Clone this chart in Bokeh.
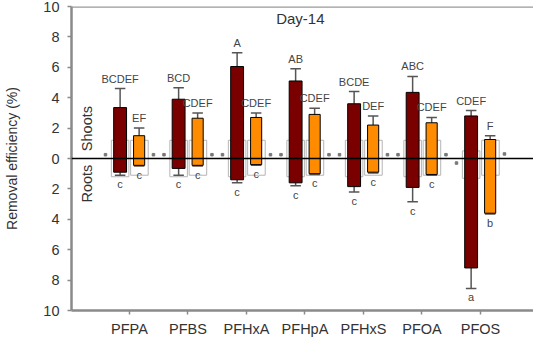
from bokeh.plotting import figure
from bokeh.models import FixedTicker, Span, Range1d, ColumnDataSource
from bokeh.core.properties import value
from bokeh.embed import file_html
from bokeh.resources import INLINE

categories = ["PFPA", "PFBS", "PFHxA", "PFHpA", "PFHxS", "PFOA", "PFOS"]
# shoots (upwards) and roots (downwards) removal efficiency, %
shoot_dark = [3.35, 3.9, 6.05, 5.1, 3.6, 4.35, 2.8]
shoot_dark_err = [1.25, 0.75, 0.9, 0.8, 0.8, 1.05, 0.35]
shoot_orange = [1.5, 2.65, 2.7, 2.9, 2.2, 2.35, 1.25]
shoot_orange_err = [0.5, 0.35, 0.3, 0.4, 0.6, 0.35, 0.25]
root_dark = [0.9, 0.65, 1.4, 1.6, 1.85, 1.9, 7.2]
root_dark_err = [0.2, 0.45, 0.2, 0.2, 0.35, 0.95, 1.35]
root_orange = [0.45, 0.45, 0.4, 1.0, 0.9, 1.05, 3.6]
root_orange_err = [0.05, 0.05, 0.05, 0.05, 0.05, 0.05, 0.05]
# faded control boxes
ctrl_shoot_left = [1.2, 1.2, 1.2, 1.2, 1.2, 1.2, 0.5]
ctrl_shoot_right = [1.2, 1.2, 1.2, 1.2, 1.2, 1.2, 1.2]
ctrl_root_left = [1.2, 1.2, 1.2, 1.2, 1.2, 1.2, 1.3]
ctrl_root_right = [1.1, 1.1, 1.1, 1.1, 1.1, 1.1, 1.1]
ctrl_dot_left = [0.25, 0.25, 0.25, 0.25, 0.25, 0.25, -0.3]
ctrl_dot_right = [0.25, 0.25, 0.25, 0.25, 0.25, 0.25, 0.3]

shoot_dark_labels = ["BCDEF", "BCD", "A", "AB", "BCDE", "ABC", "CDEF"]
shoot_orange_labels = ["EF", "CDEF", "CDEF", "CDEF", "DEF", "CDEF", "F"]
root_dark_labels = ["c", "c", "c", "c", "c", "c", "a"]
root_orange_labels = ["c", "c", "c", "c", "c", "c", "b"]

y_ticks = [-10, -8, -6, -4, -2, 0, 2, 4, 6, 8, 10]

DARK = "#7a0000"
ORANGE = "#ff8c00"
ERR = "#555555"
FONT = "Liberation Sans"

xs = [i + 1 for i in range(len(categories))]
dx_dark = -0.16
dx_or = 0.165
xd = [x + dx_dark for x in xs]
xo = [x + dx_or for x in xs]

p = figure(width=533, height=340, x_range=Range1d(0.009, 7.906), y_range=Range1d(-10, 10),
           output_backend="svg", toolbar_location=None,
           min_border_left=71, min_border_right=0, min_border_top=6, min_border_bottom=30)
p.grid.visible = False
p.outline_line_color = None
p.background_fill_color = "white"
p.border_fill_color = "white"

# control (faded) boxes
p.vbar(x=[x - 0.16 for x in xs], width=0.3, top=ctrl_shoot_left, bottom=[-v for v in ctrl_root_left],
       fill_color="white", line_color="#b5b5b5", line_width=1)
p.vbar(x=[x + 0.17 for x in xs], width=0.3, top=ctrl_shoot_right, bottom=[-v for v in ctrl_root_right],
       fill_color="white", line_color="#b5b5b5", line_width=1)
p.scatter(x=[x - 0.41 for x in xs], y=ctrl_dot_left, size=2.5, marker="square", color="#777777")
p.scatter(x=[x + 0.41 for x in xs], y=ctrl_dot_right, size=2.5, marker="square", color="#777777")

# error bars
def errbars(xc, base, err, sign):
    tips = [sign * (b + e) for b, e in zip(base, err)]
    p.segment(x0=xc, y0=[sign * b for b in base], x1=xc, y1=tips, line_color=ERR, line_width=1.5)
    p.segment(x0=[x - 0.09 for x in xc], y0=tips, x1=[x + 0.09 for x in xc], y1=tips,
              line_color=ERR, line_width=1.5)
    return tips

tip_sd = errbars(xd, shoot_dark, shoot_dark_err, 1)
tip_so = errbars(xo, shoot_orange, shoot_orange_err, 1)
tip_rd = errbars(xd, root_dark, root_dark_err, -1)
tip_ro = errbars(xo, root_orange, root_orange_err, -1)

# bars
p.vbar(x=xd, width=0.22, top=shoot_dark, bottom=0, fill_color=DARK, line_color="black", line_width=1)
p.vbar(x=xd, width=0.22, top=0, bottom=[-v for v in root_dark], fill_color=DARK, line_color="black", line_width=1)
p.vbar(x=xo, width=0.19, top=shoot_orange, bottom=0, fill_color=ORANGE, line_color="black", line_width=1)
p.vbar(x=xo, width=0.19, top=0, bottom=[-v for v in root_orange], fill_color=ORANGE, line_color="black", line_width=1)

p.add_layout(Span(location=0, dimension="width", line_color="black", line_width=1.3))
p.add_layout(Span(location=10, dimension="width", line_color="#9a9a9a", line_width=2.5))

# letters
lab_kw = dict(text_font=value(FONT), text_font_size="11px", text_color="#444444", text_align="center")
p.text(x=xd, y=tip_sd, text=shoot_dark_labels, text_baseline="bottom", y_offset=-4, **lab_kw)
p.text(x=xo, y=tip_so, text=shoot_orange_labels, text_baseline="bottom", y_offset=-4, **lab_kw)
p.text(x=xd, y=tip_rd, text=root_dark_labels, text_baseline="top", y_offset=3, **lab_kw)
p.text(x=xo, y=tip_ro, text=root_orange_labels, text_baseline="top", y_offset=3, **lab_kw)

p.text(x=[0.28], y=[1.97], text=["Shoots"], angle=1.5708, text_align="center", text_baseline="middle",
       text_font=value(FONT), text_font_size="14.5px", text_color="#333333")
p.text(x=[0.28], y=[-1.65], text=["Roots"], angle=1.5708, text_align="center", text_baseline="middle",
       text_font=value(FONT), text_font_size="14.5px", text_color="#333333")
p.text(x=[3.92], y=[9.2], text=["Day-14"], text_align="center", text_baseline="middle",
       text_font=value(FONT), text_font_size="15px", text_color="#333333")

# axes
p.yaxis.ticker = FixedTicker(ticks=y_ticks)
p.yaxis.major_label_overrides = {t: str(abs(t)) for t in y_ticks}
p.yaxis.axis_label = "Removal efficiency (%)"
p.yaxis.axis_label_text_font = FONT
p.yaxis.axis_label_text_font_style = "normal"
p.yaxis.axis_label_text_font_size = "14px"
p.yaxis.axis_label_text_color = "#333333"
p.yaxis.axis_label_standoff = 20
p.xaxis.ticker = FixedTicker(ticks=xs)
p.xaxis.major_label_overrides = {x: c for x, c in zip(xs, categories)}
for ax in (p.xaxis, p.yaxis):
    ax.axis_line_color = "#8a8a8a"
    ax.axis_line_width = 2.5
    ax.major_tick_line_color = "#8a8a8a"
    ax.major_tick_line_width = 1.5
    ax.major_tick_out = 4
    ax.major_tick_in = 0
    ax.minor_tick_line_color = None
    ax.major_label_text_font = FONT
    ax.major_label_text_font_size = "14.5px"
    ax.major_label_text_color = "#333333"
p.yaxis.major_label_standoff = 8
p.xaxis.major_label_standoff = 6

open("out.html", "w").write(file_html(p, INLINE))
